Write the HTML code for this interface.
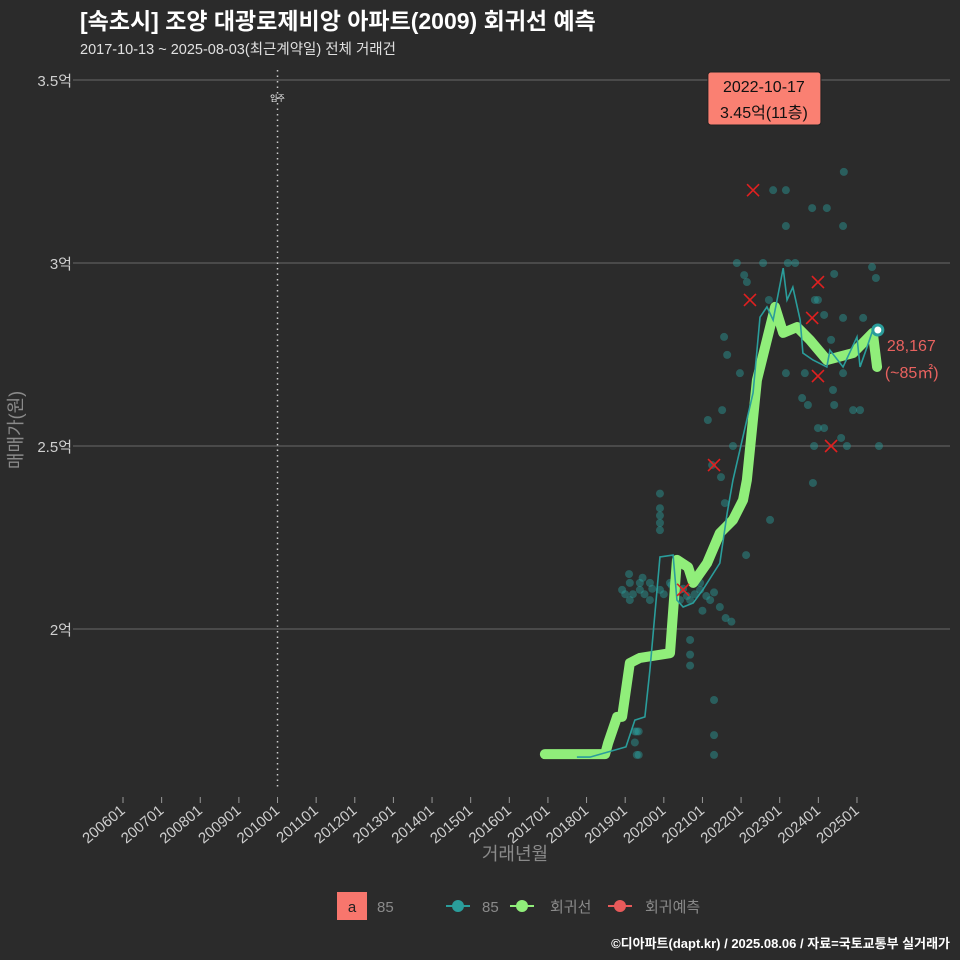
<!DOCTYPE html>
<html><head><meta charset="utf-8">
<style>
html,body{margin:0;padding:0;background:#2b2b2b;}
svg{display:block;font-family:"Liberation Sans","Noto Sans CJK KR",sans-serif;}
</style></head>
<body>
<svg id="chart" width="960" height="960" viewBox="0 0 960 960">
<rect x="0" y="0" width="960" height="960" fill="#2b2b2b"/>
<text x="80" y="29" fill="#ffffff" font-size="23" font-weight="bold">[속초시] 조양 대광로제비앙 아파트(2009) 회귀선 예측</text>
<text x="80" y="54" fill="#e0e0e0" font-size="14.5">2017-10-13 ~ 2025-08-03(최근계약일) 전체 거래건</text>
<g id="grid"></g>
<g id="xaxis"></g>
<g id="yaxis"></g>
<g id="marks"></g>
<text x="515" y="860" fill="#8a8a8a" font-size="18" text-anchor="middle">거래년월</text>
<text transform="translate(22,430) rotate(-90)" fill="#8a8a8a" font-size="18" text-anchor="middle">매매가(원)</text>
<g>
<rect x="337" y="892" width="30" height="28" fill="#f8766d"/>
<text x="352" y="912" fill="#222" font-size="15" text-anchor="middle">a</text>
<text x="377" y="912" fill="#8a8a8a" font-size="15">85</text>
<g>
<line x1="446" y1="906" x2="470" y2="906" stroke="#2a9d9b" stroke-width="2"/>
<circle cx="458" cy="906" r="6" fill="#2a9d9b"/>
<text x="482" y="912" fill="#8a8a8a" font-size="15">85</text></g>
<g>
<line x1="510" y1="906" x2="534" y2="906" stroke="#90ee7a" stroke-width="2"/>
<circle cx="522" cy="906" r="6" fill="#90ee7a"/>
<text x="550" y="912" fill="#8a8a8a" font-size="15">회귀선</text></g>
<g>
<line x1="608" y1="906" x2="632" y2="906" stroke="#e85a5a" stroke-width="2"/>
<circle cx="620" cy="906" r="6" fill="#e85a5a"/>
<text x="645" y="912" fill="#8a8a8a" font-size="15">회귀예측</text></g>
</g>
<text x="950" y="948" fill="#ffffff" font-size="13" font-weight="bold" text-anchor="end">©디아파트(dapt.kr) / 2025.08.06 / 자료=국토교통부 실거래가</text>
</svg>
<script>
const yTicks=[2,2.5,3,3.5];
const yTickLabels=["2억","2.5억","3억","3.5억"];
const xTickYears=[2006,2007,2008,2009,2010,2011,2012,2013,2014,2015,2016,2017,2018,2019,2020,2021,2022,2023,2024,2025];
const xTickLabels=["200601","200701","200801","200901","201001","201101","201201","201301","201401","201501","201601","201701","201801","201901","202001","202101","202201","202301","202401","202501"];
const moveInYear=2010;
const regYears=[2016.92,2018.48,2018.56,2018.79,2018.92,2019.12,2019.38,2020.16,2020.34,2020.63,2020.76,2021.12,2021.45,2021.79,2022.05,2022.15,2022.41,2022.88,2023.09,2023.45,2023.78,2024.22,2024.90,2025.41,2025.52];
const regValues=[1.658,1.658,1.689,1.760,1.760,1.907,1.921,1.934,2.189,2.169,2.126,2.180,2.262,2.298,2.352,2.407,2.680,2.880,2.809,2.825,2.790,2.735,2.754,2.809,2.716];
const avgYears=[2017.75,2018.09,2019.02,2019.25,2019.51,2019.64,2019.90,2020.24,2020.34,2020.50,2020.76,2021.01,2021.45,2021.64,2021.79,2022.31,2022.49,2022.67,2022.83,2023.09,2023.19,2023.34,2023.53,2023.60,2023.86,2024.22,2024.30,2024.64,2025.00,2025.08,2025.26,2025.41,2025.54];
const avgValues=[1.650,1.650,1.678,1.751,1.760,1.888,2.197,2.202,2.079,2.060,2.071,2.107,2.180,2.317,2.407,2.645,2.852,2.880,2.844,2.986,2.899,2.934,2.844,2.754,2.735,2.716,2.762,2.716,2.798,2.716,2.770,2.817,2.817];
const dealYears=[2018.92,2019.12,2019.38,2019.64,2019.90,2020.16,2020.42,2020.68,2020.94,2021.2,2021.45,2019.12,2019.38,2019.64,2020.42,2020.94,2019.90,2019.90,2019.90,2019.90,2019.90,2019.25,2019.30,2019.35,2019.25,2019.30,2019.35,2021.30,2021.30,2021.30,2020.68,2020.68,2020.68,
2022.72,2024.66,2022.83,2023.16,2023.84,2024.22,2023.16,2024.64,2021.89,2022.57,2023.21,2023.40,2022.08,2022.15,2024.41,2025.39,2025.49,2022.72,2023.91,2023.99,2024.15,2024.64,2025.16,2021.56,2021.64,2021.97,2023.16,2023.65,2024.33,2024.64,2024.38,2024.41,2023.58,2023.73,2024.90,2025.08,2023.99,2024.15,2024.59,2024.74,2023.89,2025.57,2023.86,2021.14,2021.51,2021.79,2021.25,2021.48,2022.13,2022.75,2022.10,2021.58,2021.0,2021.6,2021.75,
2019.0,2019.2,2019.5,2019.7,2020.0,2020.3,2020.6,2020.8,2021.1,2021.3,2019.1,2019.45,2020.2,2020.5];
const dealValues=[2.107,2.126,2.107,2.079,2.107,2.126,2.107,2.079,2.107,2.079,2.060,2.079,2.126,2.126,2.079,2.126,2.37,2.33,2.31,2.29,2.27,1.72,1.72,1.72,1.69,1.656,1.656,1.806,1.71,1.656,1.97,1.93,1.90,
3.451,3.249,3.199,3.199,3.150,3.150,3.101,3.101,3.000,3.000,3.000,3.000,2.967,2.948,2.970,2.989,2.959,2.899,2.899,2.899,2.858,2.850,2.850,2.798,2.749,2.699,2.699,2.699,2.790,2.699,2.653,2.612,2.631,2.612,2.598,2.598,2.549,2.549,2.522,2.500,2.500,2.500,2.399,2.571,2.598,2.500,2.448,2.415,2.202,2.298,2.38,2.344,2.05,2.03,2.02,
2.095,2.095,2.095,2.11,2.095,2.095,2.09,2.095,2.09,2.10,2.15,2.14,2.12,2.11];
const predYears=[2022.31,2022.23,2023.99,2023.84,2023.99,2024.33,2021.30,2020.50];
const predValues=[3.199,2.899,2.948,2.850,2.691,2.500,2.448,2.107];
const maxLabelDate="2022-10-17";
const maxLabelText="3.45억(11층)";
const maxLabelYear=2022.72, maxLabelValue=3.451;
const lastLabelValue="28,167";
const lastLabelArea="(~85㎡)";

const NS="http://www.w3.org/2000/svg";
const X=y=>123+(y-2006)*38.63;
const Y=v=>629-(v-2)*366;
function mk(tag,attrs,parent){const e=document.createElementNS(NS,tag);for(const k in attrs)e.setAttribute(k,attrs[k]);parent.appendChild(e);return e;}
const grid=document.getElementById('grid'),xa=document.getElementById('xaxis'),ya=document.getElementById('yaxis'),marks=document.getElementById('marks');
yTicks.forEach((t,i)=>{
 const l=mk('line',{x1:73,x2:950,y1:Y(t),y2:Y(t),stroke:'#5c5c5c','stroke-width':1.2},grid);
 
 
 const tx=mk('text',{x:72,y:Y(t)+6,fill:'#cfcfcf','font-size':15,'text-anchor':'end'},ya);
 tx.textContent=yTickLabels[i];
 
 
});
xTickYears.forEach((yr,i)=>{
 const x=X(yr);
 const tk=mk('line',{x1:x,x2:x,y1:797,y2:803,stroke:'#999'},xa);
 
 
 const tx=mk('text',{transform:`translate(${x+3},${812}) rotate(-40)`,fill:'#cfcfcf','font-size':15,'text-anchor':'end'},xa);
 tx.textContent=xTickLabels[i];
 
 
});
const mv=mk('line',{x1:X(moveInYear),x2:X(moveInYear),y1:70,y2:790,stroke:'#cccccc','stroke-width':1.5,'stroke-dasharray':'1.5 4'},marks);


const mvt=mk('text',{x:X(moveInYear),y:101,fill:'#ffffff','font-size':8,'text-anchor':'middle'},marks);
mvt.textContent='입주';


dealYears.forEach((yr,i)=>{
 const c=mk('circle',{cx:X(yr),cy:Y(dealValues[i]),r:4,fill:'#2a9d9b','fill-opacity':0.45},marks);
 
 
});
const reg=mk('polyline',{points:regYears.map((y,i)=>X(y)+','+Y(regValues[i])).join(' '),fill:'none',stroke:'#90ee7a','stroke-width':10,'stroke-linejoin':'round','stroke-linecap':'round'},marks);


const avg=mk('polyline',{points:avgYears.map((y,i)=>X(y)+','+Y(avgValues[i])).join(' '),fill:'none',stroke:'#2a9d9b','stroke-width':1.6},marks);


predYears.forEach((yr,i)=>{
 const x=X(yr),y=Y(predValues[i]);
 const p=mk('path',{d:`M${x-6},${y-6}L${x+6},${y+6}M${x+6},${y-6}L${x-6},${y+6}`,stroke:'#e02020','stroke-width':1.6},marks);
 
 
});
const ly=avgYears[avgYears.length-1],lv=avgValues[avgValues.length-1];
const lc=mk('circle',{cx:X(ly),cy:Y(lv),r:5,fill:'#ffffff',stroke:'#2a9d9b','stroke-width':3},marks);


const t1=mk('text',{x:X(ly)+9,y:Y(lv)+21,fill:'#e8625f','font-size':16},marks);
t1.textContent=lastLabelValue;


const t2=mk('text',{x:X(ly)+7,y:Y(lv)+48,fill:'#e8625f','font-size':16},marks);
t2.textContent=lastLabelArea;


const bx=X(maxLabelYear)-61;
const br=mk('rect',{x:bx,y:72,width:113,height:53,rx:3,fill:'#fa8072',stroke:'#222','stroke-width':1},marks);


const b1=mk('text',{x:bx+56,y:92,fill:'#111','font-size':16,'text-anchor':'middle'},marks);
b1.textContent=maxLabelDate;


const b2=mk('text',{x:bx+56,y:118,fill:'#111','font-size':16,'text-anchor':'middle'},marks);
b2.textContent=maxLabelText;


</script>
</body></html>
